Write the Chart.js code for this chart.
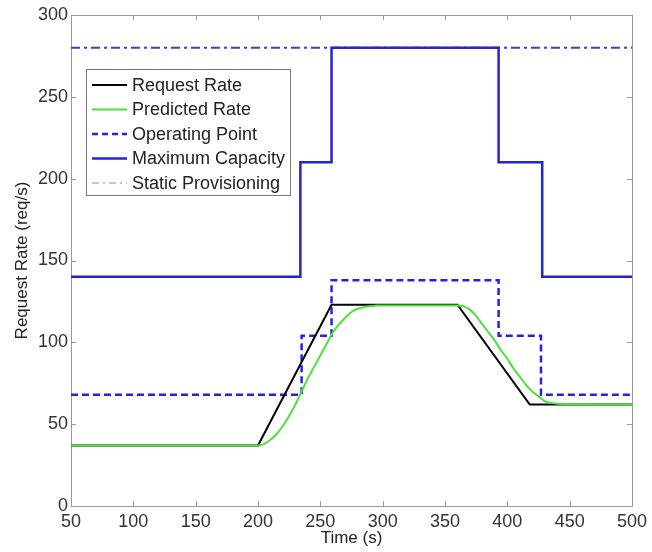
<!DOCTYPE html>
<html>
<head>
<meta charset="utf-8">
<script src="https://cdn.jsdelivr.net/npm/chart.js@4"></script>
<style>
  body { margin: 0; background: #fff; }
</style>
</head>
<body>
<canvas id="myChart" width="652" height="552"></canvas>
<script>
// values
const requestTimes = [50, 200, 259, 360, 418, 500];
const requestRate = [37, 37, 123, 123, 62, 62];

const predictedTimes = [50, 200, 205, 210, 215, 220, 225, 230, 235, 240, 245, 250, 255, 260, 265, 270, 275, 280, 285, 290, 295,
  360, 365, 370, 375, 380, 385, 390, 395, 400, 405, 410, 415, 420, 425, 430, 435, 440, 500];
const predictedRate = [37, 37, 38, 40.5, 44, 49, 55, 62, 70, 78, 85, 92, 99, 106, 111, 115, 118.5, 120.5, 121.5, 122, 122.5,
  122.5, 122, 120, 116, 111, 106, 101, 95, 90, 84, 79, 74, 70, 67, 64, 63, 62.5, 62];

// step changes (value holds until the next time)
const operatingTimes = [50, 235, 259, 393, 427, 500];
const operatingPoint = [68, 104, 138, 104, 68, 68];

const capacityTimes = [50, 234, 259, 393, 428, 500];
const maxCapacity = [140, 210, 280, 210, 140, 140];

const staticTimes = [50, 500];
const staticProvisioning = [280, 280];

const xTicks = [50, 100, 150, 200, 250, 300, 350, 400, 450, 500];
const yTicks = [0, 50, 100, 150, 200, 250, 300];

const legendLabels = ["Request Rate", "Predicted Rate", "Operating Point", "Maximum Capacity", "Static Provisioning"];

function pts(xs, ys) {
  return xs.map((x, i) => ({x: x, y: ys[i]}));
}

const FONT = "'Liberation Sans', Arial, sans-serif";

// legend box drawn inside the plot, like the original figure
const boxLegend = {
  id: 'boxLegend',
  afterDatasetsDraw(chart) {
    const ctx = chart.ctx;
    ctx.save();
    ctx.fillStyle = '#fff';
    ctx.fillRect(86, 69, 204, 126);
    ctx.strokeStyle = '#777';
    ctx.lineWidth = 1;
    ctx.strokeRect(86.5, 69.5, 204, 126);

    const styles = [
      {color: '#000', dash: [], width: 2},
      {color: '#4fe03a', dash: [], width: 2},
      {color: '#2323e6', dash: [6, 4], width: 2.5},
      {color: '#2323d8', dash: [], width: 2.5},
      {color: '#a9acf0', dash: [7, 4, 2, 4], width: 1.5}
    ];
    ctx.font = '18px ' + FONT;
    ctx.textBaseline = 'middle';
    legendLabels.forEach((label, i) => {
      const y = 85 + i * 24.5;
      const s = styles[i];
      ctx.beginPath();
      ctx.setLineDash(s.dash);
      ctx.strokeStyle = s.color;
      ctx.lineWidth = s.width;
      ctx.moveTo(92, y);
      ctx.lineTo(127, y);
      ctx.stroke();
      ctx.setLineDash([]);
      ctx.fillStyle = '#222';
      ctx.fillText(label, 132, y + 1);
    });
    ctx.restore();
  }
};

// box round the plot area, with short inward ticks
const plotBox = {
  id: 'plotBox',
  beforeDatasetsDraw(chart) {
    const a = chart.chartArea;
    const ctx = chart.ctx;
    const xs = chart.scales.x, ys = chart.scales.y;
    ctx.save();
    ctx.strokeStyle = '#999';
    ctx.lineWidth = 1;
    ctx.strokeRect(Math.round(a.left) + 0.5, Math.round(a.top) + 0.5, Math.round(a.right - a.left), Math.round(a.bottom - a.top));
    ctx.beginPath();
    xTicks.forEach(v => {
      const px = Math.round(xs.getPixelForValue(v)) + 0.5;
      ctx.moveTo(px, a.bottom); ctx.lineTo(px, a.bottom - 5);
      ctx.moveTo(px, a.top); ctx.lineTo(px, a.top + 5);
    });
    yTicks.forEach(v => {
      const py = Math.round(ys.getPixelForValue(v)) + 0.5;
      ctx.moveTo(a.left, py); ctx.lineTo(a.left + 5, py);
      ctx.moveTo(a.right, py); ctx.lineTo(a.right - 5, py);
    });
    ctx.stroke();
    ctx.restore();
  }
};

new Chart("myChart", {
  type: "line",
  data: {
    datasets: [
      {
        label: legendLabels[0],
        data: pts(requestTimes, requestRate),
        borderColor: '#000',
        borderWidth: 2,
        order: 2
      },
      {
        label: legendLabels[1],
        data: pts(predictedTimes, predictedRate),
        borderColor: '#4fe03a',
        borderWidth: 2,
        cubicInterpolationMode: 'monotone',
        order: 1
      },
      {
        label: legendLabels[2],
        data: pts(operatingTimes, operatingPoint),
        borderColor: '#2323e6',
        borderWidth: 2.5,
        borderDash: [7, 4],
        stepped: true,
        order: 3
      },
      {
        label: legendLabels[3],
        data: pts(capacityTimes, maxCapacity),
        borderColor: '#2323d8',
        borderWidth: 2.5,
        stepped: true,
        order: 4
      },
      {
        label: legendLabels[4],
        data: pts(staticTimes, staticProvisioning),
        borderColor: '#3c3ce0',
        borderWidth: 2,
        borderDash: [9, 4, 3, 4],
        order: 5
      }
    ]
  },
  options: {
    responsive: false,
    animation: false,
    layout: {padding: {top: 15, right: 19, left: 0, bottom: 0}},
    elements: {point: {radius: 0}, line: {fill: false, tension: 0}},
    plugins: {
      legend: {display: false},
      tooltip: {enabled: false}
    },
    scales: {
      x: {
        type: 'linear',
        min: 50,
        max: 500,
        afterBuildTicks: s => { s.ticks = xTicks.map(v => ({value: v})); },
        afterFit: s => { s.height = 46; },
        grid: {display: false, drawTicks: false},
        border: {display: false},
        ticks: {color: '#333', padding: 5, font: {size: 18, family: FONT}},
        title: {display: true, text: 'Time (s)', color: '#222', font: {size: 17, family: FONT}, padding: {top: 0, bottom: 3}}
      },
      y: {
        type: 'linear',
        min: 0,
        max: 300,
        afterBuildTicks: s => { s.ticks = yTicks.map(v => ({value: v})); },
        afterFit: s => { s.width = 71; },
        grid: {display: false, drawTicks: false},
        border: {display: false},
        ticks: {color: '#333', padding: 3, font: {size: 18, family: FONT}},
        title: {display: true, text: 'Request Rate (req/s)', color: '#222', font: {size: 17, family: FONT}, padding: {top: 12, bottom: 0}}
      }
    }
  },
  plugins: [plotBox, boxLegend]
});
</script>
</body>
</html>
